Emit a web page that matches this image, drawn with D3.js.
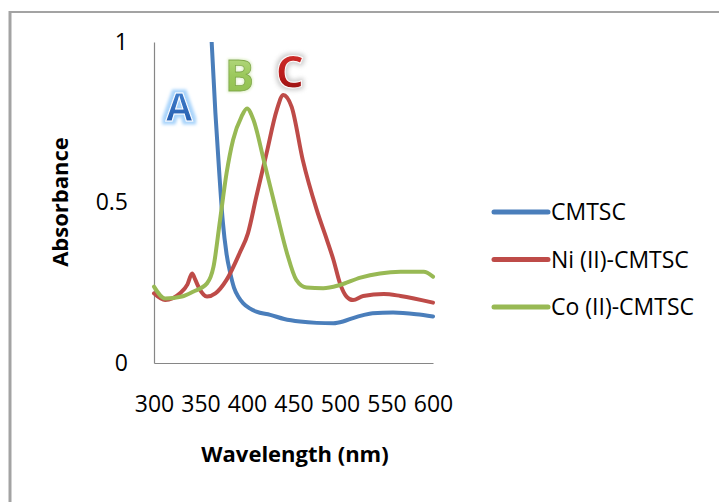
<!DOCTYPE html>
<html>
<head>
<meta charset="utf-8">
<script src="https://d3js.org/d3.v7.min.js"></script>
<style>
  body { margin: 0; background: #fff; }
  svg { display: block; font-family: "Open Sans", sans-serif; }
  .axis path { stroke: #868686; stroke-width: 1.2; }
  .axis line { display: none; }
  .axis text { font-size: 23px; fill: #000; font-family: "Open Sans", sans-serif; }
</style>
</head>
<body>
<div id="chart"></div>
<script>
// spectra
var seriesNames = ["CMTSC", "Ni (II)-CMTSC", "Co (II)-CMTSC"];
var seriesColors = ["#4a7ebb", "#be4b48", "#98b954"];

var cmtscNm  = [352, 357, 362, 366, 370, 374, 378, 382, 386, 391, 396, 403, 410, 425, 440, 457, 475, 493, 504, 514, 525, 535, 557, 582, 600];
var cmtscAbs = [1.6, 1.2, 1.0, 0.78, 0.6, 0.44, 0.34, 0.28, 0.235, 0.205, 0.186, 0.170, 0.160, 0.150, 0.137, 0.129, 0.125, 0.124, 0.130, 0.140, 0.149, 0.155, 0.157, 0.152, 0.145];

var niNm  = [300, 312, 328, 336, 341, 344, 348, 357, 366, 378, 392, 401, 410, 421, 432, 439, 448, 460, 475, 486, 493, 500, 507, 514, 525, 547, 565, 600];
var niAbs = [0.217, 0.196, 0.217, 0.245, 0.279, 0.262, 0.236, 0.207, 0.217, 0.259, 0.342, 0.404, 0.518, 0.653, 0.788, 0.835, 0.798, 0.632, 0.477, 0.383, 0.321, 0.248, 0.207, 0.196, 0.209, 0.215, 0.209, 0.188];

var coNm  = [300, 312, 330, 342, 357, 364, 371, 378, 385, 394, 400, 407, 418, 432, 443, 453, 464, 482, 500, 522, 543, 565, 590, 600];
var coAbs = [0.238, 0.201, 0.207, 0.222, 0.248, 0.300, 0.445, 0.591, 0.695, 0.767, 0.793, 0.757, 0.632, 0.467, 0.342, 0.259, 0.235, 0.233, 0.243, 0.266, 0.279, 0.284, 0.284, 0.269];

var xTicks = [300, 350, 400, 450, 500, 550, 600];
var yTicks = [0, 0.5, 1];

var peakLabels = ["A", "B", "C"];
var peakNm  = [327, 392, 446];
var peakAbs = [0.755, 0.846, 0.857];

var width = 719, height = 502;
var margin = {top: 42, right: 286, bottom: 139, left: 154};

var svg = d3.select("#chart").append("svg")
    .attr("width", width)
    .attr("height", height);

var x = d3.scaleLinear().domain([300, 600]).range([margin.left, width - margin.right]);
var y = d3.scaleLinear().domain([0, 1]).range([height - margin.bottom, margin.top]);

var defs = svg.append("defs");

defs.append("clipPath").attr("id", "plotClip")
  .append("rect")
    .attr("x", x(300) - 4)
    .attr("y", y(1))
    .attr("width", x(600) - x(300) + 8)
    .attr("height", y(0) - y(1));

// outer frame, only top and left edges are in view
svg.append("line")
    .attr("x1", 10).attr("y1", 12).attr("x2", width).attr("y2", 12)
    .attr("stroke", "#a3a3a3").attr("stroke-width", 2);
svg.append("line")
    .attr("x1", 10).attr("y1", 11).attr("x2", 10).attr("y2", height)
    .attr("stroke", "#a3a3a3").attr("stroke-width", 3);

// axes
svg.append("g")
    .attr("class", "axis")
    .attr("transform", "translate(0," + y(0) + ")")
    .call(d3.axisBottom(x).tickValues(xTicks).tickSize(0).tickPadding(33).tickSizeOuter(0));

svg.append("g")
    .attr("class", "axis")
    .attr("transform", "translate(" + x(300) + ",0)")
    .call(d3.axisLeft(y).tickValues(yTicks).tickSize(0).tickPadding(26).tickSizeOuter(0)
        .tickFormat(function(d) { return d3.format("")(d); }));

svg.append("text")
    .attr("x", 295)
    .attr("y", 462)
    .attr("text-anchor", "middle")
    .style("font-size", "22px")
    .style("font-weight", "bold")
    .text("Wavelength (nm)");

svg.append("text")
    .attr("transform", "translate(68,202) rotate(-90)")
    .attr("text-anchor", "middle")
    .style("font-size", "22px")
    .style("font-weight", "bold")
    .text("Absorbance");

// lines
var seriesData = [
  d3.zip(cmtscNm, cmtscAbs),
  d3.zip(niNm, niAbs),
  d3.zip(coNm, coAbs)
];

var valueline = d3.line()
    .curve(d3.curveMonotoneX)
    .x(function(d) { return x(d[0]); })
    .y(function(d) { return y(d[1]); });

var plot = svg.append("g").attr("clip-path", "url(#plotClip)");
plot.selectAll("path.series")
    .data(seriesData)
  .enter().append("path")
    .attr("class", "series")
    .attr("d", valueline)
    .attr("fill", "none")
    .attr("stroke", function(d, i) { return seriesColors[i]; })
    .attr("stroke-width", 4)
    .attr("stroke-linejoin", "round")
    .attr("stroke-linecap", "round");

// legend
var legend = svg.selectAll("g.legend")
    .data(seriesNames)
  .enter().append("g")
    .attr("class", "legend")
    .attr("transform", function(d, i) { return "translate(494," + (212 + i * 47.5) + ")"; });

legend.append("line")
    .attr("x1", 0).attr("x2", 54)
    .attr("stroke", function(d, i) { return seriesColors[i]; })
    .attr("stroke-width", 5)
    .attr("stroke-linecap", "round");

legend.append("text")
    .attr("x", 57)
    .attr("dy", "0.35em")
    .style("font-size", "23px")
    .text(function(d) { return d; });

// wordart style peak letters
function glow(id, color, r, blur) {
  var f = defs.append("filter").attr("id", id)
      .attr("x", "-50%").attr("y", "-50%").attr("width", "200%").attr("height", "200%");
  f.append("feMorphology").attr("in", "SourceAlpha").attr("operator", "dilate").attr("radius", r).attr("result", "fat");
  f.append("feGaussianBlur").attr("in", "fat").attr("stdDeviation", blur).attr("result", "soft");
  f.append("feFlood").attr("flood-color", color);
  f.append("feComposite").attr("in2", "soft").attr("operator", "in").attr("result", "halo");
  var m = f.append("feMerge");
  m.append("feMergeNode").attr("in", "halo");
  m.append("feMergeNode").attr("in", "SourceGraphic");
}
glow("glowA", "#a9d4fb", 2.5, 1.8);
glow("glowB", "#e4f2cf", 1, 0.8);
glow("glowC", "#d0d0d0", 2, 2);

function grad(id, stops) {
  var g = defs.append("linearGradient").attr("id", id)
      .attr("x1", 0).attr("y1", 0).attr("x2", 0).attr("y2", 1);
  stops.forEach(function(s) {
    g.append("stop").attr("offset", s[0]).attr("stop-color", s[1]);
  });
}
grad("fillA", [[0, "#4b8ad6"], [1, "#1d55a8"]]);
grad("fillB", [[0, "#c2e194"], [0.5, "#9cc95c"], [1, "#8dbb4c"]]);
grad("fillC", [[0, "#dc3a34"], [0.6, "#b81a1a"], [1, "#7d0e0e"]]);

var letterFill = ["url(#fillA)", "url(#fillB)", "url(#fillC)"];
var letterStroke = ["#ffffff", "#7fa843", "#ffffff"];
var letterGlow = ["url(#glowA)", "url(#glowB)", "url(#glowC)"];
var letterSize = [39, 43, 45];

svg.selectAll("text.peak")
    .data(peakLabels)
  .enter().append("text")
    .attr("class", "peak")
    .attr("x", function(d, i) { return x(peakNm[i]); })
    .attr("y", function(d, i) { return y(peakAbs[i]); })
    .attr("text-anchor", "middle")
    .style("font-size", function(d, i) { return letterSize[i] + "px"; })
    .style("font-weight", "bold")
    .attr("fill", function(d, i) { return letterFill[i]; })
    .attr("stroke", function(d, i) { return letterStroke[i]; })
    .attr("stroke-width", function(d, i) { return i === 1 ? 0.8 : 1; })
    .attr("filter", function(d, i) { return letterGlow[i]; })
    .text(function(d) { return d; });
</script>
</body>
</html>
